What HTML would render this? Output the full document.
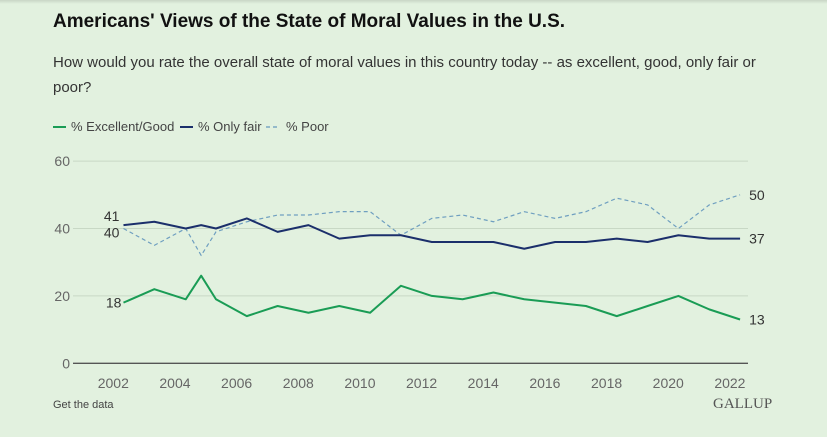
<!DOCTYPE html>
<html><head><meta charset="utf-8"><style>
body{margin:0;width:827px;height:437px;background:#e2f1df;overflow:hidden;font-family:"Liberation Sans",sans-serif;position:relative}
.t{position:absolute;left:53px;top:11px;font-size:19px;font-weight:bold;color:#111}
.s{position:absolute;left:53px;top:50px;width:740px;font-size:15px;line-height:25px;color:#333}
.f{position:absolute;left:53px;top:399px;font-size:11px;color:#444}
.g{position:absolute;left:713px;top:396px;font-family:"Liberation Serif",serif;font-size:15px;color:#555}
</style></head><body>
<div style="position:absolute;left:0;top:0;width:827px;height:4px;background:linear-gradient(#c9d6c6,#e2f1df)"></div>
<div class="t">Americans' Views of the State of Moral Values in the U.S.</div>
<div class="s">How would you rate the overall state of moral values in this country today -- as excellent, good, only fair or poor?</div>
<svg id="c" width="827" height="437" style="position:absolute;left:0;top:0">
<g font-size="13" fill="#444">
<line x1="53" y1="127" x2="66" y2="127" stroke="#1a9c55" stroke-width="2"/><text x="71" y="131">% Excellent/Good</text>
<line x1="180" y1="127" x2="193" y2="127" stroke="#1b2f6b" stroke-width="2"/><text x="198" y="131">% Only fair</text>
<line x1="266" y1="127" x2="279" y2="127" stroke="#7ba7c4" stroke-width="1.5" stroke-dasharray="4,3"/><text x="286" y="131">% Poor</text>
</g>
</svg>
<div class="f">Get the data</div>
<div class="g">GALLUP</div>
<script>
const years=[2002.33,2003.33,2004.35,2004.85,2005.33,2006.33,2007.33,2008.33,2009.33,2010.33,2011.33,2012.33,2013.33,2014.33,2015.33,2016.33,2017.33,2018.33,2019.33,2020.33,2021.33,2022.33];
const excellentGood=[18,22,19,26,19,14,17,15,17,15,23,20,19,21,19,18,17,14,17,20,16,13];
const onlyFair=[41,42,40,41,40,43,39,41,37,38,38,36,36,36,34,36,36,37,36,38,37,37];
const poor=[40,35,40,32,39,42,44,44,45,45,38,43,44,42,45,43,45,49,47,40,47,50];
const yTicks=[0,20,40,60];
const xTicks=[2002,2004,2006,2008,2010,2012,2014,2016,2018,2020,2022];
const NS='http://www.w3.org/2000/svg',svg=document.getElementById('c');
const X=v=>113.3+(v-2002)*30.83, Y=v=>363.3-v*3.37;
function mk(t,a,p){const e=document.createElementNS(NS,t);for(const k in a)e.setAttribute(k,a[k]);(p||svg).appendChild(e);return e;}
yTicks.forEach(v=>{
  const l=mk('line',{x1:73,x2:748,y1:Y(v),y2:Y(v),stroke:v?'#c8d8c5':'#555','stroke-width':v?1:1.3});
  
  
  const t=mk('text',{x:70,y:Y(v)+5,'text-anchor':'end','font-size':14,fill:'#666'});t.textContent=v;
  
  
});
xTicks.forEach(v=>{
  const t=mk('text',{x:X(v),y:388,'text-anchor':'middle','font-size':14,fill:'#666'});t.textContent=v;
  
  
});
function line(vals,color,w,dash,name){
  const p=mk('polyline',{points:vals.map((v,i)=>X(years[i])+','+Y(vals[i])).join(' '),fill:'none',stroke:color,'stroke-width':w,'stroke-linejoin':'round'});
  if(dash)p.setAttribute('stroke-dasharray',dash);
  
  
}
line(poor,'#6f9fc0',1.2,'4,3','poor-line');
line(onlyFair,'#1b2f6b',2,null,'only-fair-line');
line(excellentGood,'#1a9c55',2,null,'excellent-good-line');
function lab(txt,x,y,anchor,name){const t=mk('text',{x:x,y:y,'text-anchor':anchor,'font-size':14,fill:'#333'});t.textContent=txt;
  
  }
const L=years.length-1;
lab(onlyFair[0],X(years[0])-4,Y(onlyFair[0])-4,'end','only-fair-start-label');
lab(poor[0],X(years[0])-4,Y(poor[0])+9,'end','poor-start-label');
lab(excellentGood[0],X(years[0])-2,Y(excellentGood[0])+5,'end','excellent-good-start-label');
lab(poor[L],X(years[L])+9,Y(poor[L])+5,'start','poor-end-label');
lab(onlyFair[L],X(years[L])+9,Y(onlyFair[L])+5,'start','only-fair-end-label');
lab(excellentGood[L],X(years[L])+9,Y(excellentGood[L])+5,'start','excellent-good-end-label');
</script>
</body></html>
